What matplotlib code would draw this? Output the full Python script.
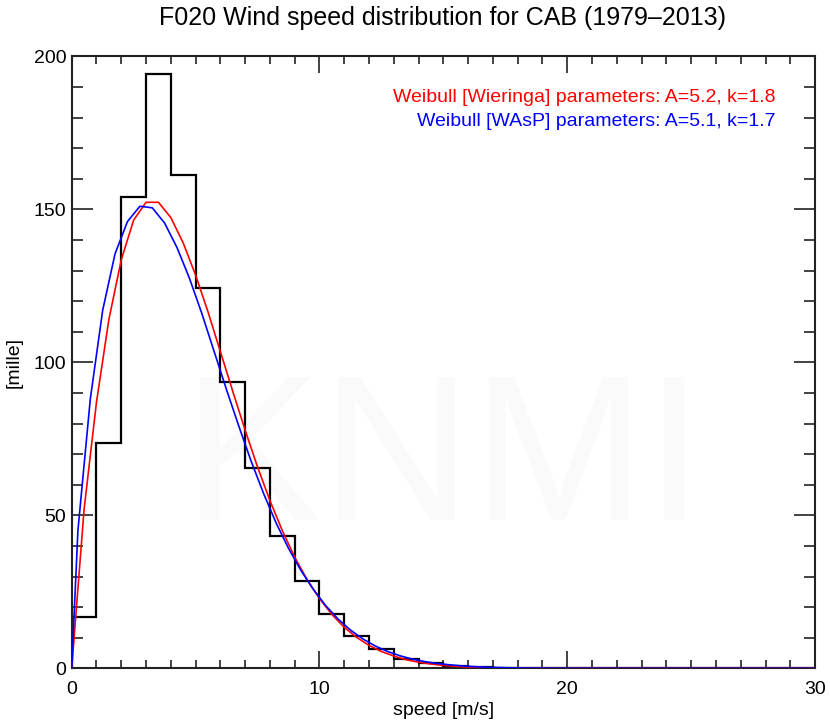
import numpy as np
import matplotlib
matplotlib.use("Agg")
import matplotlib.pyplot as plt
from matplotlib.ticker import MultipleLocator

plt.rcParams['font.family'] = ['Liberation Sans', 'DejaVu Sans']

# Histogram (per mille per 1 m/s bin), bins 0..30
bin_edges = list(range(0, 31))
hist_mille = [16.9, 73.7, 153.9, 194.1, 161.2, 124.4, 93.7, 65.5, 43.1, 28.6,
              17.6, 10.6, 6.2, 2.9, 1.6, 0.8, 0.4, 0.2, 0.1, 0.0,
              0.0, 0.0, 0.0, 0.0, 0.0, 0.0, 0.0, 0.0, 0.0, 0.0]

# Weibull [Wieringa] curve
speed_red = [0, 0.5, 1.0, 1.5, 2.0, 2.5, 3.0, 3.5, 4.0, 4.5, 5.0, 5.5, 6.0, 6.5,
             7.0, 7.5, 8.0, 8.5, 9.0, 9.5, 10.0, 10.5, 11.0, 11.5, 12.0, 12.5,
             13.0, 13.5, 14.0, 14.5, 15.0, 15.5, 16.0, 16.5, 17.0, 17.5, 18.0,
             18.5, 19.0, 19.5, 20.0, 22.0, 25.0, 30.0]
mille_red = [0, 52, 87, 114, 133.5, 146.5, 152.3, 152.3, 147.3, 139, 128.5, 116.5,
             103.5, 90.5, 77.8, 65.8, 54.8, 45, 36.3, 29, 22.8, 17.6, 13.4, 10.1,
             7.5, 5.5, 4.0, 2.8, 2.0, 1.4, 0.95, 0.64, 0.43, 0.28, 0.18, 0.12,
             0.07, 0.05, 0.03, 0.02, 0.01, 0.0, 0.0, 0.0]

# Weibull [WAsP] curve
speed_blue = [0, 0.25, 0.75, 1.25, 1.75, 2.25, 2.75, 3.25, 3.75, 4.25, 4.75, 5.25,
              5.75, 6.25, 6.75, 7.25, 7.75, 8.25, 8.75, 9.25, 9.75, 10.25, 10.75,
              11.25, 11.75, 12.25, 12.75, 13.25, 13.75, 14.25, 14.75, 15.25,
              15.75, 16.25, 16.75, 17.25, 17.75, 18.25, 18.75, 19.25, 19.75,
              20.25, 22.0, 25.0, 30.0]
mille_blue = [0, 45, 88, 117, 135.5, 146, 151, 150.5, 145.5, 137.5, 127.5, 116,
              103.5, 91, 79, 67.5, 57, 47.5, 39.2, 32, 25.8, 20.5, 16.1, 12.5, 9.6,
              7.3, 5.5, 4.1, 3.0, 2.2, 1.6, 1.15, 0.8, 0.55, 0.38, 0.26, 0.17,
              0.11, 0.07, 0.05, 0.03, 0.02, 0.0, 0.0, 0.0]

title = "F020 Wind speed distribution for CAB (1979\u20132013)"
label_red = "Weibull [Wieringa] parameters: A=5.2, k=1.8"
label_blue = "Weibull [WAsP] parameters: A=5.1, k=1.7"

fig = plt.figure(figsize=(8.30, 7.24), dpi=100)
ax = fig.add_axes([0.0864, 0.0769, 0.8956, 0.8453])

# very faint watermark
ax.text(0.5, 0.33, "KNMI", transform=ax.transAxes, ha='center', va='center',
        fontsize=150, color='#fafafa', zorder=0)

ax.stairs(hist_mille, bin_edges, color='black', lw=1.6, zorder=2)
ax.plot(speed_red, mille_red, color='#ff0000', lw=1.2, zorder=3)
ax.plot(speed_blue, mille_blue, color='#0000ff', lw=1.2, zorder=4)

ax.set_xlim(0, 30)
ax.set_ylim(0, 200)
ax.xaxis.set_major_locator(MultipleLocator(10))
ax.xaxis.set_minor_locator(MultipleLocator(1))
ax.yaxis.set_major_locator(MultipleLocator(50))
ax.yaxis.set_minor_locator(MultipleLocator(10))
ax.tick_params(which='both', direction='in', top=True, right=True,
               labelsize=14, width=1.2, color='#222222')
ax.tick_params(axis='x', which='major', length=12, pad=9)
ax.tick_params(axis='x', which='minor', length=6)
ax.tick_params(axis='y', which='major', length=15, pad=4)
ax.tick_params(axis='y', which='minor', length=8)
for s in ax.spines.values():
    s.set_linewidth(1.5)
    s.set_color('#222222')

ax.set_xlabel("speed [m/s]", fontsize=14, labelpad=3)
ax.set_ylabel("[mille]", fontsize=14, labelpad=8)
fig.text(0.533, 0.975, title, ha='center', va='center', fontsize=18)

ax.text(0.947, 0.932, label_red, transform=ax.transAxes, ha='right', va='center',
        fontsize=14, color='#ff0000')
ax.text(0.947, 0.893, label_blue, transform=ax.transAxes, ha='right', va='center',
        fontsize=14, color='#0000ff')

fig.savefig("out.png", dpi=100)
